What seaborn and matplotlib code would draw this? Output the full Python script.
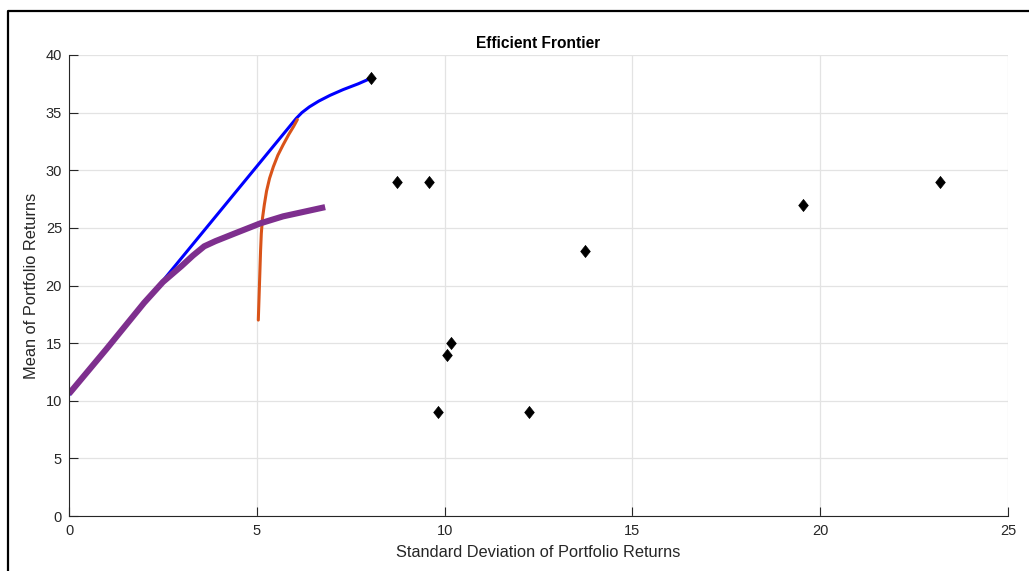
import numpy as np
import pandas as pd
import matplotlib
matplotlib.use("Agg")
import matplotlib.pyplot as plt
import seaborn as sns
from matplotlib.lines import Line2D

# portfolio assets (std, mean)
asset_std = [8.05, 8.73, 9.58, 13.74, 10.17, 10.06, 9.82, 12.25, 19.54, 23.19]
asset_mean = [38.0, 29.0, 29.0, 23.0, 15.0, 14.0, 9.0, 9.0, 27.0, 29.0]

# frontier without risk free asset (orange)
front_std = [5.04, 5.06, 5.08, 5.10, 5.12, 5.15, 5.20, 5.26, 5.34, 5.44, 5.56, 5.70, 5.85, 5.98, 6.08]
front_mean = [17.0, 19.0, 21.0, 23.0, 24.5, 25.8, 27.0, 28.2, 29.3, 30.3, 31.3, 32.2, 33.1, 33.8, 34.4]

# frontier with risk free asset (blue)
cml_std = [0.0, 6.05, 6.2, 6.4, 6.65, 6.95, 7.3, 7.7, 8.05]
cml_mean = [10.5, 34.5, 35.0, 35.5, 36.0, 36.5, 37.0, 37.5, 38.0]

# constrained frontier (purple)
con_std = [0.0, 1.0, 2.0, 2.5, 3.0, 3.3, 3.6, 3.9, 4.4, 5.1, 5.7, 6.4, 6.82]
con_mean = [10.6, 14.5, 18.5, 20.3, 21.7, 22.6, 23.4, 23.85, 24.5, 25.4, 26.0, 26.5, 26.8]

sns.set_theme(style="whitegrid")
plt.rcParams["font.family"] = ["Liberation Sans", "DejaVu Sans"]

fig = plt.figure(figsize=(10.29, 5.71), dpi=100)
ax = fig.add_axes([69 / 1029, 55 / 571, 939 / 1029, 461 / 571])

sns.lineplot(x=cml_std, y=cml_mean, sort=False, estimator=None, color="#0000FF", linewidth=2.2, ax=ax)
sns.lineplot(x=front_std, y=front_mean, sort=False, estimator=None, color="#D95319", linewidth=2.2, ax=ax)
sns.lineplot(x=con_std, y=con_mean, sort=False, estimator=None, color="#7E2F8E", linewidth=4.4,
             solid_capstyle="butt", ax=ax)
diamond = [(0, 1), (0.8, 0), (0, -1), (-0.8, 0), (0, 1)]
sns.scatterplot(x=asset_std, y=asset_mean, marker=diamond, s=75, color="black", edgecolor="black",
                linewidth=0.5, ax=ax, zorder=5)

ax.set_xlim(0, 25)
ax.set_ylim(0, 40)
ax.set_xticks(np.arange(0, 26, 5))
ax.set_yticks(np.arange(0, 41, 5))
ax.set_facecolor("white")
ax.grid(True, color="#e3e3e3", linewidth=0.9)
for s in ["top", "right"]:
    ax.spines[s].set_visible(False)
for s in ["left", "bottom"]:
    ax.spines[s].set_visible(True)
    ax.spines[s].set_color("#262626")
    ax.spines[s].set_linewidth(0.8)
ax.tick_params(direction="in", length=6.5, width=0.8, colors="#262626", labelsize=10.5,
               left=True, bottom=True)
ax.tick_params(axis="x", pad=6)
ax.tick_params(axis="y", pad=5)

ax.set_title("Efficient Frontier", fontsize=11.2, fontweight="bold", color="black", pad=5)
ax.set_xlabel("Standard Deviation of Portfolio Returns", fontsize=11.8, color="#262626", labelpad=5)
ax.set_ylabel("Mean of Portfolio Returns", fontsize=11.8, color="#262626", labelpad=5)

# window border
bx = 7.5 / 1029
by = 1 - 11 / 571
fig.add_artist(Line2D([bx, bx, 1.0], [0.0, by, by], transform=fig.transFigure, color="black", linewidth=1.6))

fig.savefig("out.png", dpi=100)
